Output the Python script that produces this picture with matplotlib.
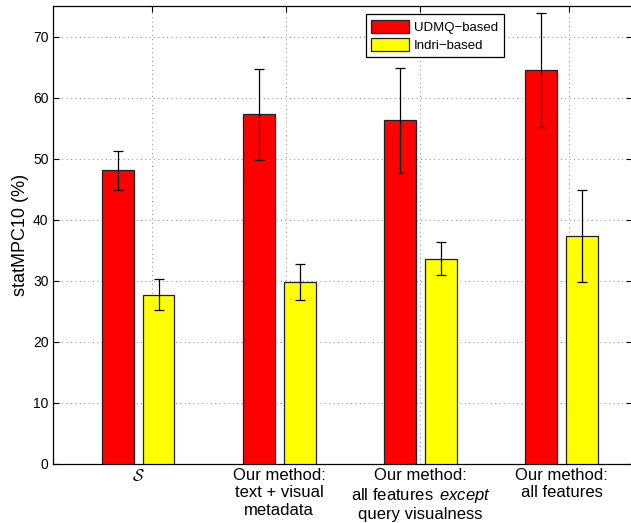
import numpy as np
import matplotlib
matplotlib.use("Agg")
import matplotlib.pyplot as plt

plt.rcParams['font.family'] = ['Liberation Sans', 'DejaVu Sans']
plt.rcParams['mathtext.fontset'] = 'custom'
plt.rcParams['mathtext.rm'] = 'Liberation Sans'
plt.rcParams['mathtext.it'] = 'Liberation Sans:italic'

# data
categories = [r'$\mathcal{S}$',
              'Our method:\ntext + visual\nmetadata',
              'Our method:\nall features $\\,\\mathit{except}$\nquery visualness',
              'Our method:\nall features']
udmq = [48.2, 57.3, 56.3, 64.5]
udmq_lo = [44.9, 49.8, 47.7, 55.1]
udmq_hi = [51.3, 64.7, 64.9, 73.8]
indri = [27.7, 29.8, 33.5, 37.3]
indri_lo = [25.2, 26.9, 30.9, 29.8]
indri_hi = [30.2, 32.7, 36.3, 44.8]
yticks = [0, 10, 20, 30, 40, 50, 60, 70]

# layout
grid_x = [1.10, 2.047, 3.0, 4.054]
off = 0.145
w = 0.226

fig = plt.figure(figsize=(6.31, 5.23), dpi=100)
ax = fig.add_axes([0.0845, 0.1134, 0.9175, 0.8751])

x = np.arange(1, len(categories) + 1)
u = np.array(udmq)
i = np.array(indri)
uerr = [u - np.array(udmq_lo), np.array(udmq_hi) - u]
ierr = [i - np.array(indri_lo), np.array(indri_hi) - i]

ekw = dict(ecolor='black', elinewidth=0.9, capsize=3.3, capthick=0.9)
ax.bar(x - off, u, w, color='#ff0000', edgecolor='#202020', linewidth=0.9,
       yerr=uerr, error_kw=ekw, label='UDMQ\u2212based', zorder=3)
ax.bar(x + off, i, w, color='#ffff00', edgecolor='#202020', linewidth=0.9,
       yerr=ierr, error_kw=ekw, label='Indri\u2212based', zorder=3)

ax.set_xlim(0.4, 4.5)
ax.set_ylim(0, 75)
ax.set_yticks(yticks)
ax.tick_params(axis='y', direction='in', left=True, right=True, length=4.3,
               labelsize=10, width=0.8)

# grid / tick marks (top) and category labels (bottom) sit at different x
ax.xaxis.remove_overlapping_locs = False
ax.set_xticks(grid_x)
ax.set_xticklabels([])
ax.tick_params(axis='x', which='major', direction='in', top=True, bottom=False,
               length=4.5, width=0.8)
ax.set_xticks(x, categories, minor=True)
ax.tick_params(axis='x', which='minor', length=0, labelsize=12, pad=3)
for lab in ax.get_xticklabels(minor=True):
    lab.set_multialignment('center')
ax.get_xticklabels(minor=True)[0].set_math_fontfamily('cm')

ax.grid(True, which='major', linestyle=(0, (1, 3.5)), color='0.55', linewidth=0.7)
ax.set_axisbelow(True)
for s in ax.spines.values():
    s.set_linewidth(0.9)

ax.set_ylabel('statMPC10 (%)', fontsize=13, labelpad=3)

leg = ax.legend(loc='upper left', bbox_to_anchor=(0.540, 0.982), fontsize=9.5,
                handlelength=2.9, handleheight=1.15, handletextpad=0.35,
                borderpad=0.4, labelspacing=0.3, fancybox=False,
                framealpha=1, edgecolor='black', borderaxespad=0)
leg.get_frame().set_linewidth(0.9)

fig.savefig('out.png', dpi=100)
